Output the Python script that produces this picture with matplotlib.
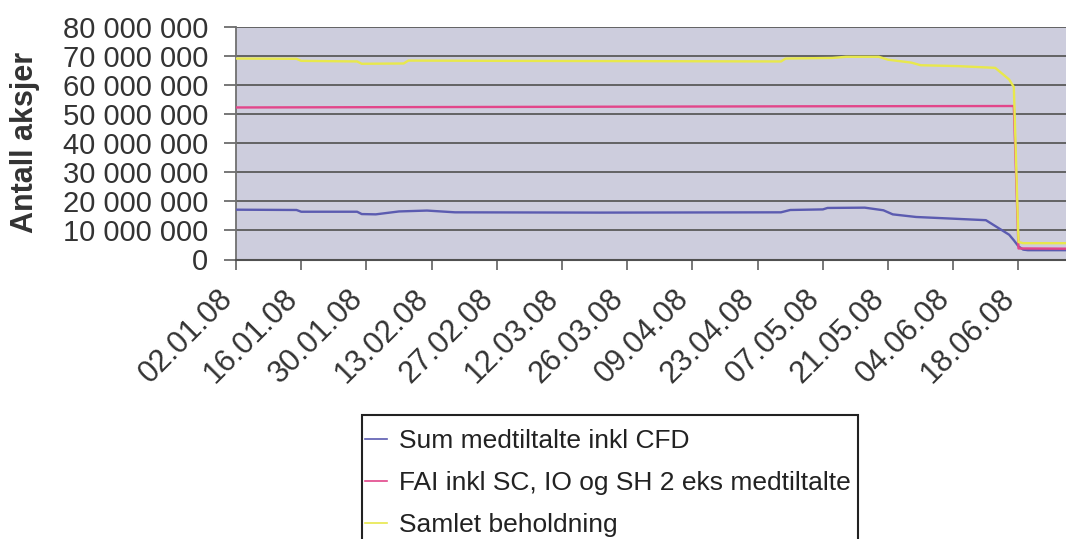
import matplotlib
matplotlib.use("Agg")
import matplotlib.pyplot as plt
import matplotlib.dates as mdates
from matplotlib.patches import Rectangle
from matplotlib.transforms import ScaledTranslation
import numpy as np
import pandas as pd

plt.rcParams['font.family'] = ['Liberation Sans', 'DejaVu Sans']

# --- data (shares, millions) ---
sum_dates = ['2008-01-02', '2008-01-15', '2008-01-16', '2008-01-28', '2008-01-29',
             '2008-02-01', '2008-02-06', '2008-02-12', '2008-02-18', '2008-03-20',
             '2008-04-28', '2008-04-30', '2008-05-07', '2008-05-08', '2008-05-16',
             '2008-05-20', '2008-05-22', '2008-05-27', '2008-06-11', '2008-06-13',
             '2008-06-16', '2008-06-17', '2008-06-18', '2008-06-19', '2008-06-20',
             '2008-06-30']
sum_values = [17.1, 17.0, 16.4, 16.4, 15.6,
              15.5, 16.5, 16.8, 16.2, 16.1,
              16.2, 17.0, 17.2, 17.7, 17.8,
              16.9, 15.5, 14.6, 13.5, 11.5,
              8.5, 6.6, 4.5, 3.4, 3.2,
              3.2]

fai_dates = ['2008-01-02', '2008-03-03', '2008-05-02', '2008-06-17', '2008-06-18',
             '2008-06-30']
fai_values = [52.2, 52.4, 52.6, 52.7, 3.8, 3.7]

total_dates = ['2008-01-02', '2008-01-15', '2008-01-16', '2008-01-28', '2008-01-29',
               '2008-02-07', '2008-02-08', '2008-02-29', '2008-04-28', '2008-04-29',
               '2008-05-09', '2008-05-12', '2008-05-19', '2008-05-21', '2008-05-26',
               '2008-05-28', '2008-06-05', '2008-06-13', '2008-06-16', '2008-06-17',
               '2008-06-18', '2008-06-19', '2008-06-30']
total_values = [69.0, 68.9, 68.2, 68.0, 67.2,
                67.3, 68.3, 68.2, 68.0, 69.0,
                69.2, 69.6, 69.6, 68.6, 67.6,
                66.7, 66.4, 65.8, 61.8, 59.2,
                6.0, 5.6, 5.6]

series_labels = ['Sum medtiltalte inkl CFD',
                 'FAI inkl SC, IO og SH 2 eks medtiltalte',
                 'Samlet beholdning']

tick_dates = ['2008-01-02', '2008-01-16', '2008-01-30', '2008-02-13', '2008-02-27',
              '2008-03-12', '2008-03-26', '2008-04-09', '2008-04-23', '2008-05-07',
              '2008-05-21', '2008-06-04', '2008-06-18']
tick_labels = ['02.01.08', '16.01.08', '30.01.08', '13.02.08', '27.02.08',
               '12.03.08', '26.03.08', '09.04.08', '23.04.08', '07.05.08',
               '21.05.08', '04.06.08', '18.06.08']

y_ticks = [0, 10, 20, 30, 40, 50, 60, 70, 80]
y_label = 'Antall aksjer'

# --- figure ---
W, H = 1066, 539
fig = plt.figure(figsize=(W / 100, H / 100), dpi=100)
ax = fig.add_axes([236 / W, 1 - 259.5 / H, 830 / W, 233 / H])
ax.set_facecolor('#cdcddd')

def to_num(ds):
    return mdates.date2num(pd.to_datetime(ds).to_pydatetime())

colors = ['#5b5bb0', '#e2468a', '#e8e84c']
for d, v, c, lab in zip([sum_dates, fai_dates, total_dates],
                        [sum_values, fai_values, total_values],
                        colors, series_labels):
    ax.plot(to_num(d), np.array(v) * 1e6, color=c, lw=1.7, label=lab,
            solid_joinstyle='round', zorder=3)

x0 = to_num(['2008-01-02'])[0]
ax.set_xlim(x0, x0 + 178.2)
ax.set_ylim(0, 80e6)

# horizontal gridlines
ax.set_yticks(np.array(y_ticks) * 1e6)
ax.set_yticklabels(['0' if t == 0 else f'{t * 1000000:,}'.replace(',', ' ') for t in y_ticks])
ax.yaxis.grid(True, color='#5a5a5a', lw=1.3)
ax.set_axisbelow(True)

for s in ['top', 'right']:
    ax.spines[s].set_visible(False)
ax.spines['left'].set_color('#707070')
ax.spines['left'].set_linewidth(1.3)
ax.spines['bottom'].set_color('#505050')
ax.spines['bottom'].set_linewidth(1.5)

ax.tick_params(axis='y', length=9, width=1.2, color='#606060', pad=11,
               labelsize=21, labelcolor='#333333')
ax.tick_params(axis='x', length=7, width=1.2, color='#606060', pad=18,
               labelsize=22, labelcolor='#333333')

ax.set_xticks(to_num(tick_dates))
ax.set_xticklabels(tick_labels, rotation=45, ha='right', va='center',
                   rotation_mode='anchor')
shift = ScaledTranslation(-8 / 100, 0, fig.dpi_scale_trans)
for lbl in ax.get_xticklabels():
    lbl.set_transform(lbl.get_transform() + shift)

fig.text(25 / W, 1 - 142 / H, y_label, rotation=90, ha='center', va='center',
         fontsize=22, fontweight='bold', color='#333333')

# legend box
fig.patches.append(Rectangle((362 / W, -0.05), (858 - 362) / W, 1 - 415 / H + 0.05,
                             transform=fig.transFigure, facecolor='white',
                             edgecolor='#222222', lw=1.5, zorder=1))

leg = fig.legend(loc='upper left', bbox_to_anchor=(365 / W, 1 - 429 / H),
                 bbox_transform=fig.transFigure, frameon=False,
                 fontsize=19, handlelength=0.85, handletextpad=0.45,
                 labelspacing=0.68, borderpad=0, borderaxespad=0)
leg.set_zorder(2)
for t in leg.get_texts():
    t.set_color('#222222')
for l in leg.get_lines():
    l.set_linewidth(1.2)

fig.savefig('out.png', dpi=100, facecolor='white')
